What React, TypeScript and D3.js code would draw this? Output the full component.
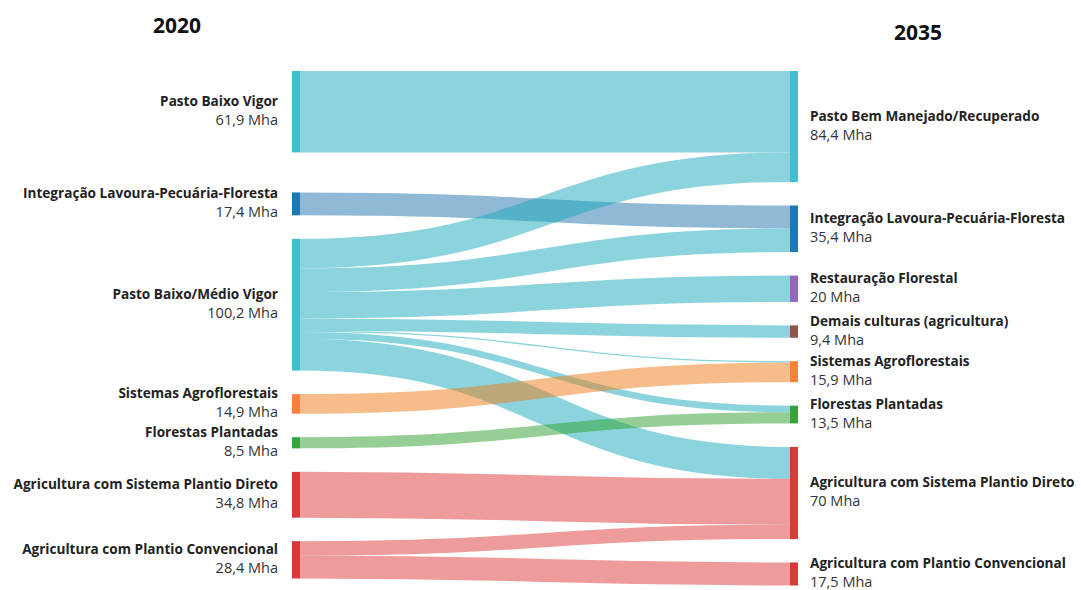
import React from "react";
import * as d3 from "d3";

const years = ["2020", "2035"];

const leftNames = [
  "Pasto Baixo Vigor",
  "Integração Lavoura-Pecuária-Floresta",
  "Pasto Baixo/Médio Vigor",
  "Sistemas Agroflorestais",
  "Florestas Plantadas",
  "Agricultura com Sistema Plantio Direto",
  "Agricultura com Plantio Convencional",
];
const leftValues = [61.9, 17.4, 100.2, 14.9, 8.5, 34.8, 28.4];
const leftGroups = ["pasto", "ilpf", "pasto", "saf", "fp", "agri", "agri"];

const rightNames = [
  "Pasto Bem Manejado/Recuperado",
  "Integração Lavoura-Pecuária-Floresta",
  "Restauração Florestal",
  "Demais culturas (agricultura)",
  "Sistemas Agroflorestais",
  "Florestas Plantadas",
  "Agricultura com Sistema Plantio Direto",
  "Agricultura com Plantio Convencional",
];
const rightValues = [84.4, 35.4, 20, 9.4, 15.9, 13.5, 70, 17.5];
const rightGroups = ["pasto", "ilpf", "rest", "demais", "saf", "fp", "agri", "agri"];

const flowSource = [0, 1, 2, 2, 2, 2, 2, 2, 2, 3, 4, 5, 6, 6];
const flowTarget = [0, 1, 0, 1, 2, 3, 4, 5, 6, 4, 5, 6, 6, 7];
const flowValue = [61.9, 17.4, 22.5, 18, 20, 9.4, 1.0, 5.0, 24.3, 14.9, 8.5, 34.8, 10.9, 17.5];

const nodeColor: Record<string, string> = {
  pasto: "#40c0cf",
  ilpf: "#1f77b4",
  rest: "#9467bd",
  demais: "#8c564b",
  saf: "#f7813d",
  fp: "#3aa23a",
  agri: "#d83a3a",
};
const linkColor: Record<string, string> = {
  pasto: "#1aa9bb",
  ilpf: "#1f73aa",
  rest: "#9467bd",
  demais: "#8c564b",
  saf: "#ee7c18",
  fp: "#2ca02c",
  agri: "#dc3838",
};

const fmt = (v: number) => String(v).replace(".", ",") + " Mha";

export default function App() {
  const W = 1081, H = 590;
  const nodeW = 8;
  const top = 71, gap = 23.5, firstExtra = 16.5;
  const colX = d3.scaleLinear().domain([0, 1]).range([292, 790]);
  const k = d3.scaleLinear().domain([0, d3.sum(leftValues)]).range([0, 350]);

  const layoutCol = (values: number[], extra: number) => {
    let y = top;
    return values.map((v, i) => {
      const y0 = y;
      const y1 = y0 + k(v);
      y = y1 + gap + (i === 0 ? extra : 0);
      return { y0, y1 };
    });
  };
  const L = layoutCol(leftValues, firstExtra);
  const R = layoutCol(rightValues, 0);

  const links = flowValue.map((v, i) => ({ s: flowSource[i], t: flowTarget[i], v, w: k(v), y0: 0, y1: 0, i }));
  L.forEach((n, si) => {
    let y = n.y0;
    links.filter((l) => l.s === si).sort((a, b) => a.t - b.t).forEach((l) => {
      l.y0 = y + l.w / 2;
      y += l.w;
    });
  });
  R.forEach((n, ti) => {
    let y = n.y0;
    links.filter((l) => l.t === ti).sort((a, b) => a.s - b.s).forEach((l) => {
      l.y1 = y + l.w / 2;
      y += l.w;
    });
  });

  const linkGen = d3.linkHorizontal<any, any>()
    .source((d: any) => [colX(0) + nodeW, d.y0])
    .target((d: any) => [colX(1), d.y1]);

  const font = "'Open Sans', sans-serif";

  return (
    <svg width={W} height={H} style={{ position: "absolute", left: 0, top: 0, background: "#fff" }}>
      <text x={177} y={33} textAnchor="middle" fontFamily={font} fontWeight={700} fontSize={21} fill="#111">{years[0]}</text>
      <text x={918} y={40} textAnchor="middle" fontFamily={font} fontWeight={700} fontSize={21} fill="#111">{years[1]}</text>
      <g>
        {links.map((l) => (
          <path key={l.i} d={linkGen(l) as string} fill="none"
            stroke={linkColor[leftGroups[l.s]]} strokeOpacity={0.5} strokeWidth={l.w} />
        ))}
      </g>
      <g>
        {L.map((n, i) => (
          <rect key={"l" + i} x={colX(0)} y={n.y0} width={nodeW} height={n.y1 - n.y0} fill={nodeColor[leftGroups[i]]} />
        ))}
        {R.map((n, i) => (
          <rect key={"r" + i} x={colX(1)} y={n.y0} width={nodeW} height={n.y1 - n.y0} fill={nodeColor[rightGroups[i]]} />
        ))}
      </g>
      <g fontFamily={font}>
        {L.map((n, i) => {
          const c = (n.y0 + n.y1) / 2;
          return (
            <g key={"lt" + i}>
              <text x={colX(0) - 14} y={c - 6} textAnchor="end" fontWeight={700} fontSize={13.6} fill="#222">{leftNames[i]}</text>
              <text x={colX(0) - 14} y={c + 13} textAnchor="end" fontSize={14.5} fill="#333">{fmt(leftValues[i])}</text>
            </g>
          );
        })}
        {R.map((n, i) => {
          const c = (n.y0 + n.y1) / 2;
          return (
            <g key={"rt" + i}>
              <text x={colX(1) + nodeW + 12} y={c - 6} fontWeight={700} fontSize={13.6} fill="#222">{rightNames[i]}</text>
              <text x={colX(1) + nodeW + 12} y={c + 13} fontSize={14.5} fill="#333">{fmt(rightValues[i])}</text>
            </g>
          );
        })}
      </g>
    </svg>
  );
}
